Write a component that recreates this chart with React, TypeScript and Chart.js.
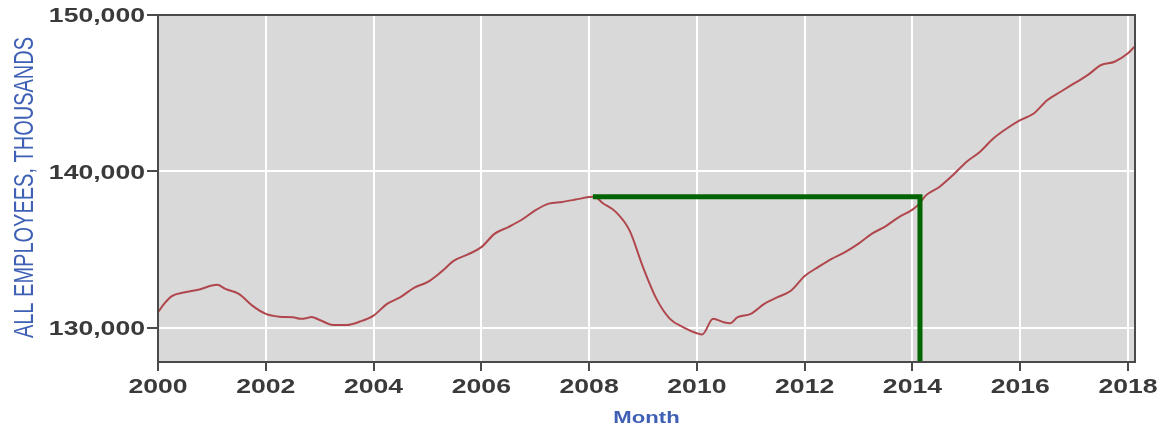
import React, { useEffect, useRef } from 'react';
import { Chart, registerables } from 'chart.js';

Chart.register(...registerables);

// ---- data (decimal year -> all employees, thousands) ----
const months: number[] = [
  2000.0, 2000.12, 2000.25, 2000.5, 2000.75, 2001.0, 2001.1, 2001.25, 2001.5, 2001.75,
  2002.0, 2002.25, 2002.5, 2002.65, 2002.75, 2002.85, 2003.0, 2003.25, 2003.5, 2003.75,
  2004.0, 2004.25, 2004.5, 2004.75, 2005.0, 2005.25, 2005.5, 2005.75,
  2006.0, 2006.25, 2006.5, 2006.75, 2007.0, 2007.25, 2007.5, 2007.75,
  2008.0, 2008.1, 2008.25, 2008.5, 2008.75, 2009.0, 2009.25, 2009.5, 2009.75,
  2010.0, 2010.1, 2010.3, 2010.5, 2010.62, 2010.75, 2011.0, 2011.25, 2011.5, 2011.75,
  2012.0, 2012.25, 2012.5, 2012.75, 2013.0, 2013.25, 2013.5, 2013.75,
  2014.0, 2014.12, 2014.25, 2014.5, 2014.75, 2015.0, 2015.25, 2015.5, 2015.75,
  2016.0, 2016.25, 2016.5, 2016.75, 2017.0, 2017.25, 2017.5, 2017.75, 2018.0, 2018.12,
];
const employees: number[] = [
  130980, 131550, 132000, 132260, 132420, 132690, 132740, 132480, 132160, 131410,
  130880, 130700, 130660, 130560, 130600, 130680, 130490, 130170, 130170, 130390,
  130770, 131520, 131950, 132550, 132910, 133550, 134300, 134680,
  135150, 136010, 136430, 136900, 137500, 137930, 138040, 138190,
  138350, 138380, 137970, 137390, 136220, 133870, 131840, 130560, 130020,
  129640, 129560, 130560, 130340, 130280, 130660, 130880, 131520, 131950, 132370,
  133300, 133870, 134400, 134830, 135370, 136010, 136480, 137070,
  137550, 137900, 138460, 139000, 139750, 140600, 141240, 142100, 142740,
  143270, 143700, 144550, 145090, 145620, 146150, 146800, 147010, 147550, 147970,
];

// green marker: level of the 2008 peak, reached again in early 2014
const markerYears: number[] = [2008.07, 2014.14, 2014.14];
const markerValues: number[] = [138380, 138380, 127800];

const xTickYears: number[] = [2000, 2002, 2004, 2006, 2008, 2010, 2012, 2014, 2016, 2018];
const yTickValues: number[] = [130000, 140000, 150000];

const xMin = 2000;
const xMax = 2018.13;
const yMin = 127800;
const yMax = 150000;

const yTitle = 'ALL EMPLOYEES, THOUSANDS';
const xTitle = 'Month';

// ---- style ----
const W = 1165;
const H = 427;
const STRETCH = 1.33;
const TICK_FONT = 'bold 20px "Liberation Sans", Arial, sans-serif';
const TICK_COLOR = '#3a3a3a';
const TITLE_COLOR = '#3f60b4';
const FRAME = '#4a4a4a';

function stretchedText(
  ctx: CanvasRenderingContext2D,
  text: string,
  x: number,
  y: number,
  font: string,
  color: string,
  align: CanvasTextAlign,
  sx: number,
  capShift: number,
  rotate = false
) {
  ctx.save();
  ctx.font = font;
  ctx.fillStyle = color;
  ctx.textAlign = align;
  ctx.textBaseline = 'alphabetic';
  ctx.translate(x, y);
  ctx.scale(sx, 1);
  if (rotate) ctx.rotate(-Math.PI / 2);
  ctx.fillText(text, 0, capShift);
  ctx.restore();
}

const plotStyle = {
  id: 'plotStyle',
  beforeDraw(chart: any) {
    const { ctx, chartArea: a } = chart;
    ctx.save();
    ctx.fillStyle = '#d9d9d9';
    ctx.fillRect(a.left, a.top, a.right - a.left, a.bottom - a.top);
    ctx.restore();
  },
  afterDraw(chart: any) {
    const { ctx, chartArea: a, scales } = chart;
    ctx.save();
    ctx.strokeStyle = FRAME;
    ctx.lineWidth = 2;
    ctx.strokeRect(a.left, a.top, a.right - a.left, a.bottom - a.top);
    ctx.restore();

    const ys = scales.y;
    for (const t of ys.ticks) {
      const py = ys.getPixelForValue(t.value);
      stretchedText(ctx, Number(t.value).toLocaleString('en-US'), a.left - 13, py, TICK_FONT, TICK_COLOR, 'right', STRETCH, 7.2);
    }
    const xs = scales.x;
    for (const t of xs.ticks) {
      const px = xs.getPixelForValue(t.value);
      stretchedText(ctx, String(t.value), px, a.bottom + 24, TICK_FONT, TICK_COLOR, 'center', STRETCH, 7.2);
    }
    // axis titles
    stretchedText(ctx, xTitle, (a.left + a.right) / 2, a.bottom + 54.5, 'bold 17px "Liberation Sans", Arial, sans-serif', TITLE_COLOR, 'center', 1.3, 6.1);
    stretchedText(ctx, yTitle, 22.5, (a.top + a.bottom) / 2 - 1, '20px "Liberation Sans", Arial, sans-serif', TITLE_COLOR, 'center', 1.42, 7.2, true);
  },
};

export default function App() {
  const ref = useRef<HTMLCanvasElement | null>(null);

  useEffect(() => {
    document.body.style.margin = '0';
    const canvas = ref.current;
    if (!canvas) return;
    const chart = new Chart(canvas, {
      type: 'line',
      data: {
        datasets: [
          {
            label: 'marker',
            data: markerYears.map((x, i) => ({ x, y: markerValues[i] })),
            borderColor: '#006400',
            borderWidth: 5,
            pointRadius: 0,
            tension: 0,
            borderJoinStyle: 'miter',
            borderCapStyle: 'butt',
            fill: false,
            order: 0,
          },
          {
            label: 'All employees',
            data: months.map((x, i) => ({ x, y: employees[i] })),
            borderColor: '#b0474d',
            borderWidth: 2,
            pointRadius: 0,
            cubicInterpolationMode: 'monotone',
            fill: false,
            order: 1,
          },
        ],
      },
      options: {
        animation: false,
        responsive: false,
        maintainAspectRatio: false,
        layout: { padding: { top: 15, right: 30, left: 0, bottom: 0 } },
        plugins: {
          legend: { display: false },
          tooltip: { enabled: false },
        },
        scales: {
          x: {
            type: 'linear',
            min: xMin,
            max: xMax,
            afterBuildTicks: (s: any) => {
              s.ticks = xTickYears.map((v) => ({ value: v }));
            },
            afterFit: (s: any) => {
              s.height = 65;
            },
            ticks: { display: false },
            grid: {
              color: '#ffffff',
              lineWidth: 2,
              drawTicks: true,
              tickLength: 9,
              tickColor: FRAME,
              tickWidth: 2,
            },
            border: { display: false },
          },
          y: {
            type: 'linear',
            min: yMin,
            max: yMax,
            afterBuildTicks: (s: any) => {
              s.ticks = yTickValues.map((v) => ({ value: v }));
            },
            afterFit: (s: any) => {
              s.width = 158;
            },
            ticks: { display: false },
            grid: {
              color: '#ffffff',
              lineWidth: 2,
              drawTicks: true,
              tickLength: 11,
              tickColor: FRAME,
              tickWidth: 2,
            },
            border: { display: false },
          },
        },
      },
      plugins: [plotStyle],
    } as any);
    return () => chart.destroy();
  }, []);

  return (
    <div style={{ width: W, height: H, background: '#ffffff' }}>
      <canvas ref={ref} width={W} height={H} style={{ display: 'block' }} />
    </div>
  );
}
